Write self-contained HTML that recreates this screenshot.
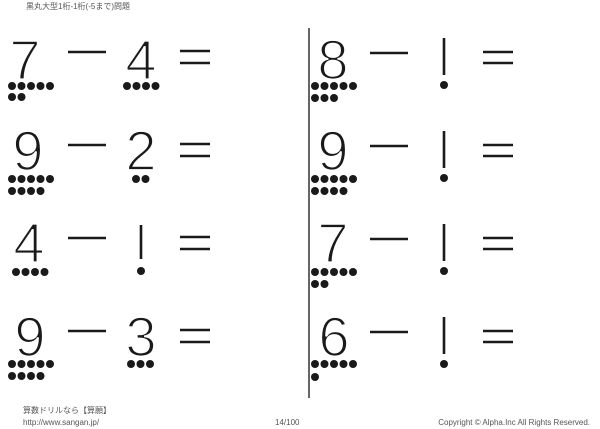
<!DOCTYPE html>
<html><head><meta charset="utf-8"><style>
html,body{margin:0;padding:0;background:#fff;}
svg{display:block;}
.d{font-family:"Liberation Sans",sans-serif;font-size:56px;fill:#1a1a1a;stroke:#fff;stroke-width:1.8px;text-anchor:middle;}
.s{font-family:"Liberation Sans","Noto Sans CJK JP",sans-serif;font-size:8px;fill:#555;}
</style></head><body>
<svg width="600" height="429" viewBox="0 0 600 429" xmlns="http://www.w3.org/2000/svg">
<text class="s" x="26" y="9">黒丸大型1桁-1桁(-5まで)問題</text>
<line x1="309" y1="28" x2="309" y2="398" stroke="#000" stroke-width="1.2"/>
<g stroke="#1a1a1a" stroke-width="2.6" fill="none">
<line x1="68" y1="52" x2="106" y2="52"/><line x1="370" y1="53" x2="408" y2="53"/>
<line x1="68" y1="145" x2="106" y2="145"/><line x1="370" y1="146" x2="408" y2="146"/>
<line x1="68" y1="238" x2="106" y2="238"/><line x1="370" y1="239" x2="408" y2="239"/>
<line x1="68" y1="331" x2="106" y2="331"/><line x1="370" y1="332" x2="408" y2="332"/>
<line x1="180" y1="51" x2="210" y2="51"/><line x1="180" y1="63" x2="210" y2="63"/>
<line x1="483" y1="52" x2="513" y2="52"/><line x1="483" y1="63" x2="513" y2="63"/>
<line x1="180" y1="144" x2="210" y2="144"/><line x1="180" y1="156" x2="210" y2="156"/>
<line x1="483" y1="145" x2="513" y2="145"/><line x1="483" y1="156" x2="513" y2="156"/>
<line x1="180" y1="237" x2="210" y2="237"/><line x1="180" y1="249" x2="210" y2="249"/>
<line x1="483" y1="238" x2="513" y2="238"/><line x1="483" y1="249" x2="513" y2="249"/>
<line x1="180" y1="330" x2="210" y2="330"/><line x1="180" y1="342" x2="210" y2="342"/>
<line x1="483" y1="331" x2="513" y2="331"/><line x1="483" y1="342" x2="513" y2="342"/>
<line x1="444" y1="38" x2="444" y2="75"/>
<line x1="444" y1="131" x2="444" y2="168"/>
<line x1="444" y1="224" x2="444" y2="261"/>
<line x1="444" y1="317" x2="444" y2="354"/>
<line x1="141" y1="225" x2="141" y2="259"/>
</g>
<g>
<text class="d" x="25" y="79">7</text><text class="d" x="141" y="79">4</text><text class="d" x="333" y="79">8</text>
<text class="d" x="28" y="170">9</text><text class="d" x="141" y="170">2</text><text class="d" x="333" y="170">9</text>
<text class="d" x="29" y="262">4</text><text class="d" x="333" y="262">7</text>
<text class="d" x="30" y="356">9</text><text class="d" x="141" y="356">3</text><text class="d" x="334" y="356">6</text>
</g>
<g fill="#1a1a1a">
<circle cx="12" cy="86" r="4"/><circle cx="21.5" cy="86" r="4"/><circle cx="31" cy="86" r="4"/><circle cx="40.5" cy="86" r="4"/><circle cx="50" cy="86" r="4"/>
<circle cx="12" cy="97" r="4"/><circle cx="21.5" cy="97" r="4"/>
<circle cx="127" cy="86" r="4"/><circle cx="136.5" cy="86" r="4"/><circle cx="146" cy="86" r="4"/><circle cx="155.5" cy="86" r="4"/>
<circle cx="315" cy="86" r="4"/><circle cx="324.5" cy="86" r="4"/><circle cx="334" cy="86" r="4"/><circle cx="343.5" cy="86" r="4"/><circle cx="353" cy="86" r="4"/>
<circle cx="315" cy="98" r="4"/><circle cx="324.5" cy="98" r="4"/><circle cx="334" cy="98" r="4"/>
<circle cx="444" cy="85" r="4"/>
<circle cx="12" cy="179" r="4"/><circle cx="21.5" cy="179" r="4"/><circle cx="31" cy="179" r="4"/><circle cx="40.5" cy="179" r="4"/><circle cx="50" cy="179" r="4"/>
<circle cx="12" cy="191" r="4"/><circle cx="21.5" cy="191" r="4"/><circle cx="31" cy="191" r="4"/><circle cx="40.5" cy="191" r="4"/>
<circle cx="136" cy="179" r="4"/><circle cx="145.5" cy="179" r="4"/>
<circle cx="315" cy="179" r="4"/><circle cx="324.5" cy="179" r="4"/><circle cx="334" cy="179" r="4"/><circle cx="343.5" cy="179" r="4"/><circle cx="353" cy="179" r="4"/>
<circle cx="315" cy="191" r="4"/><circle cx="324.5" cy="191" r="4"/><circle cx="334" cy="191" r="4"/><circle cx="343.5" cy="191" r="4"/>
<circle cx="444" cy="178" r="4"/>
<circle cx="16" cy="272" r="4"/><circle cx="25.5" cy="272" r="4"/><circle cx="35" cy="272" r="4"/><circle cx="44.5" cy="272" r="4"/>
<circle cx="141" cy="271" r="4"/>
<circle cx="315" cy="272" r="4"/><circle cx="324.5" cy="272" r="4"/><circle cx="334" cy="272" r="4"/><circle cx="343.5" cy="272" r="4"/><circle cx="353" cy="272" r="4"/>
<circle cx="315" cy="284" r="4"/><circle cx="324.5" cy="284" r="4"/>
<circle cx="444" cy="271" r="4"/>
<circle cx="12" cy="364" r="4"/><circle cx="21.5" cy="364" r="4"/><circle cx="31" cy="364" r="4"/><circle cx="40.5" cy="364" r="4"/><circle cx="50" cy="364" r="4"/>
<circle cx="12" cy="376" r="4"/><circle cx="21.5" cy="376" r="4"/><circle cx="31" cy="376" r="4"/><circle cx="40.5" cy="376" r="4"/>
<circle cx="131" cy="364" r="4"/><circle cx="140.5" cy="364" r="4"/><circle cx="150" cy="364" r="4"/>
<circle cx="315" cy="364" r="4"/><circle cx="324.5" cy="364" r="4"/><circle cx="334" cy="364" r="4"/><circle cx="343.5" cy="364" r="4"/><circle cx="353" cy="364" r="4"/>
<circle cx="315" cy="377" r="4"/>
<circle cx="444" cy="364" r="4"/>
</g>
<text class="s" x="23" y="413">算数ドリルなら【算願】</text>
<text class="s" x="23" y="425">http://www.sangan.jp/</text>
<text class="s" x="275" y="425">14/100</text>
<text class="s" x="590" y="425" text-anchor="end">Copyright © Alpha.Inc All Rights Reserved.</text>
</svg>
</body></html>
